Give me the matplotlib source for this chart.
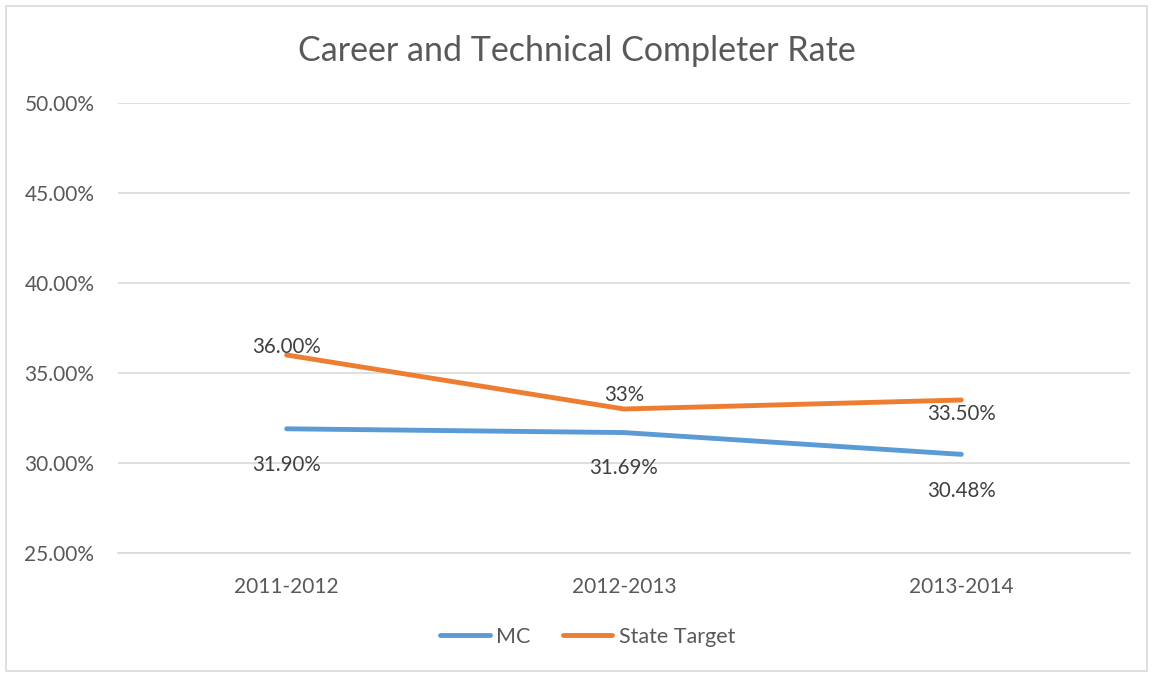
import matplotlib.pyplot as plt
from matplotlib.patches import Rectangle

plt.rcParams['font.family'] = ['Lato', 'DejaVu Sans']

# data
years = ['2011-2012', '2012-2013', '2013-2014']
mc = [31.90, 31.69, 30.48]
state_target = [36.00, 33.00, 33.50]
mc_labels = ['31.90%', '31.69%', '30.48%']
st_labels = ['36.00%', '33%', '33.50%']
y_ticks = [25, 30, 35, 40, 45, 50]

blue = '#5B9BD5'
orange = '#ED7D31'
text_col = '#595959'
grid_col = '#D9D9D9'

fig = plt.figure(figsize=(11.53, 6.77), dpi=100)
fig.patches.append(Rectangle((6 / 1153, 6 / 677), 1141 / 1153, 665 / 677,
                             transform=fig.transFigure, fill=False,
                             edgecolor='#D9D9D9', linewidth=1.2))

ax = fig.add_axes([118 / 1153, 1 - 553 / 677, 1012 / 1153, 450 / 677])
x = [i + 0.5 for i in range(len(years))]

ax.plot(x, mc, color=blue, linewidth=3.5, solid_capstyle='round', label='MC')
ax.plot(x, state_target, color=orange, linewidth=3.5, solid_capstyle='round',
        label='State Target')

# data labels (offsets in pixels)
mc_off = [-36, -35, -37]
st_off = [8, 14, -14]
for xi, v, lab, dy in zip(x, mc, mc_labels, mc_off):
    ax.annotate(lab, (xi, v), xytext=(0, dy), textcoords='offset pixels',
                ha='center', va='center', fontsize=14.8, color='#404040')
for xi, v, lab, dy in zip(x, state_target, st_labels, st_off):
    ax.annotate(lab, (xi, v), xytext=(0, dy), textcoords='offset pixels',
                ha='center', va='center', fontsize=14.8, color='#404040')

ax.set_xlim(0, 3)
ax.set_ylim(25, 50)
ax.set_yticks(y_ticks)
ax.set_yticklabels([f'{t:.2f}%' for t in y_ticks])
ax.set_xticks(x)
ax.set_xticklabels(years)
ax.tick_params(length=0, labelsize=15, labelcolor=text_col)
ax.tick_params(axis='y', pad=17)
ax.tick_params(axis='x', pad=17)
ax.grid(axis='y', color=grid_col, linewidth=1.2)
ax.set_axisbelow(True)
for s in ['top', 'right', 'left']:
    ax.spines[s].set_visible(False)
ax.spines['bottom'].set_color(grid_col)
ax.spines['bottom'].set_linewidth(1.2)

fig.text(0.5, 1 - 51 / 677, 'Career and Technical Completer Rate',
         ha='center', va='center', fontsize=24.5, color=text_col)

leg = fig.legend(loc='center', bbox_to_anchor=(0.5 + 11 / 1153, 1 - 637 / 677),
                 ncol=2, frameon=False, fontsize=15.5, handlelength=2.3,
                 handletextpad=0.3, columnspacing=1.5)
for t in leg.get_texts():
    t.set_color(text_col)

fig.savefig('out.png', dpi=100)
